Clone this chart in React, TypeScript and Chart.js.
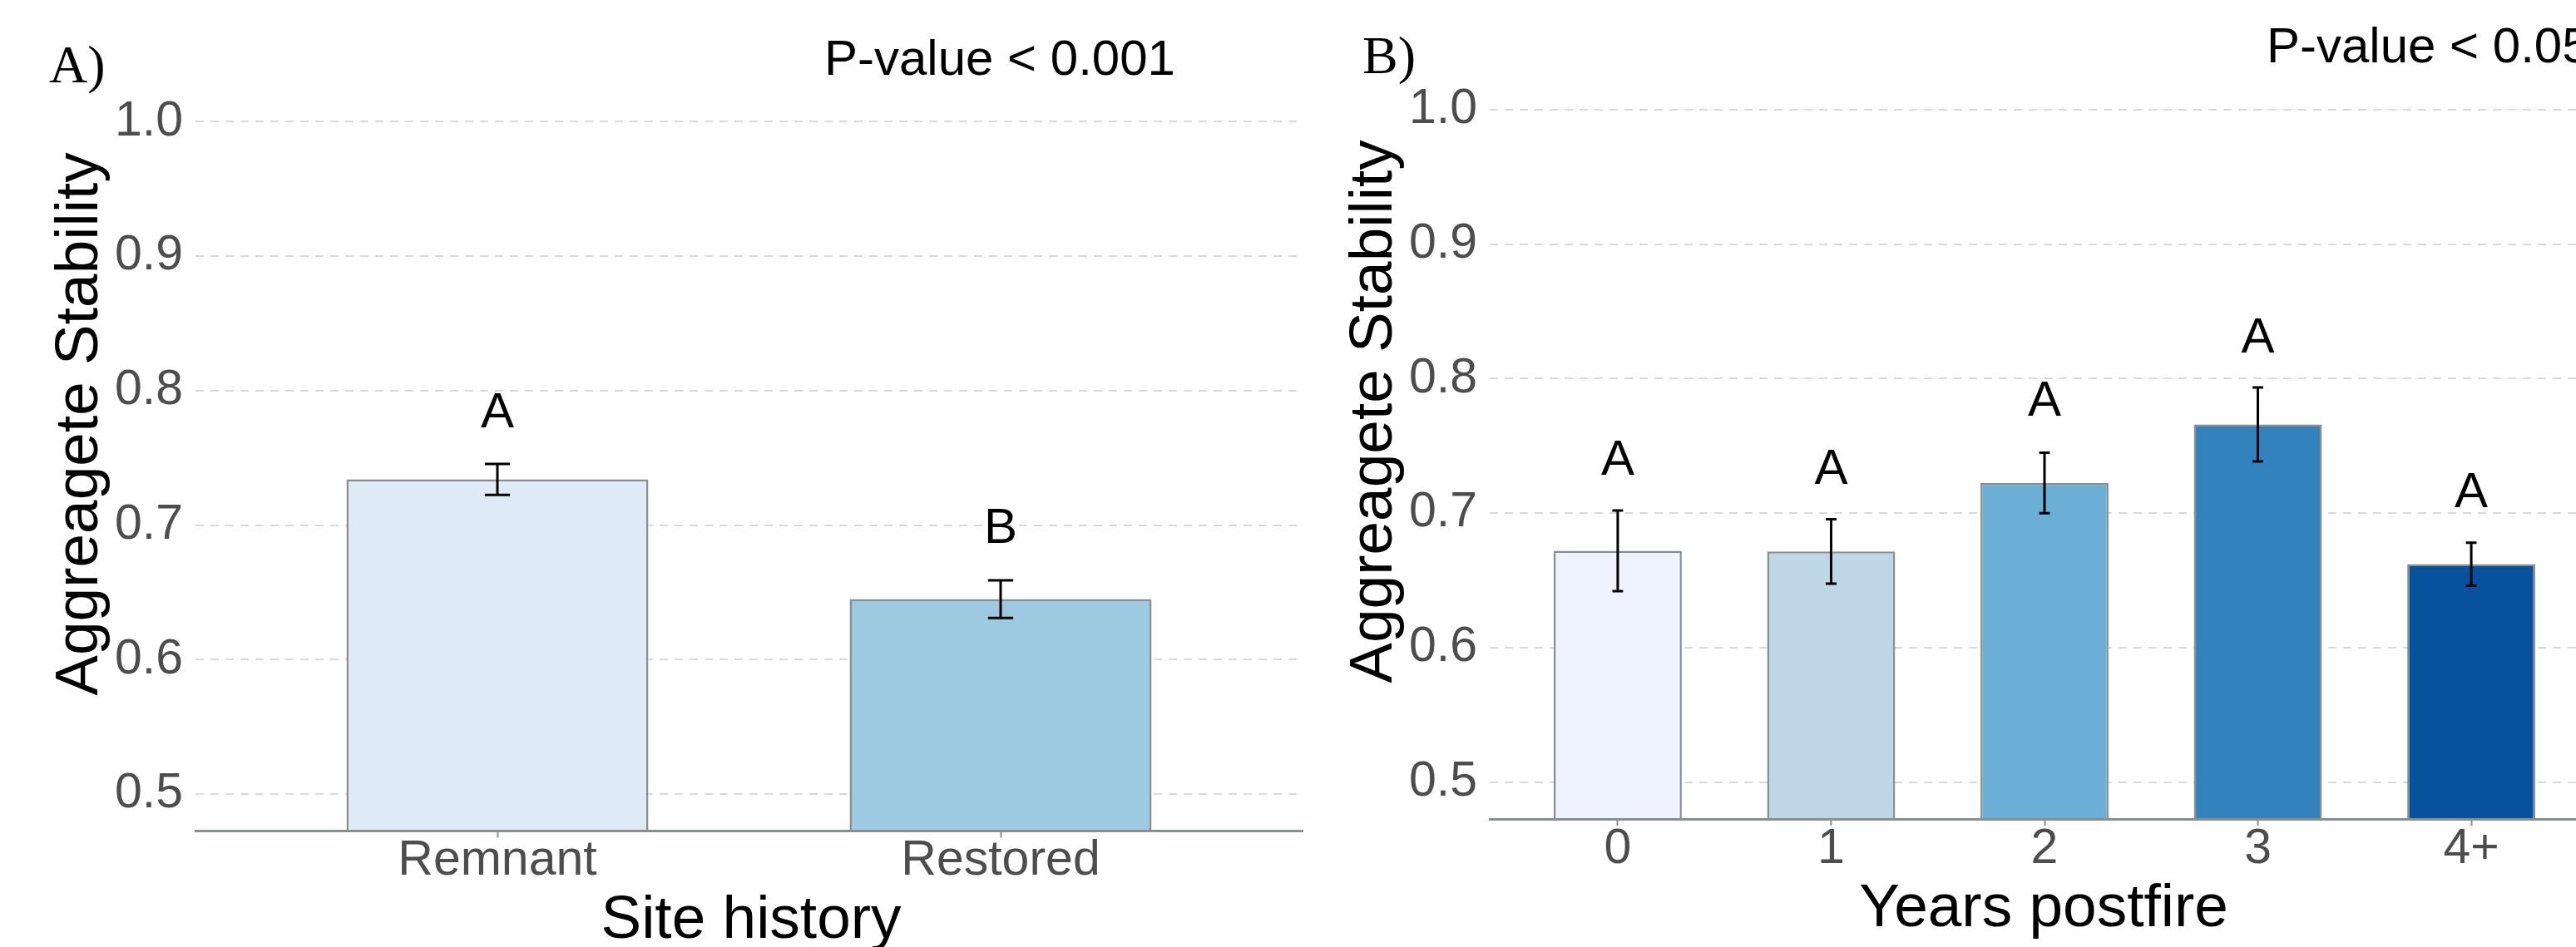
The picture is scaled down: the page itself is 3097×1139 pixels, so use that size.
import React, { useEffect, useRef } from 'react';
import { Chart, registerables } from 'chart.js';

Chart.register(...registerables);

// ---------- data ----------
const siteCategories = ['Remnant', 'Restored'];
const siteMeans = [0.734, 0.645];
const siteSE = [0.0115, 0.014];
const siteLetters = ['A', 'B'];
const siteLetterY = [0.786, 0.7];
const siteColors = ['#DEEBF7', '#9ECAE1'];

const yearCategories = ['0', '1', '2', '3', '4+'];
const yearMeans = [0.672, 0.6715, 0.7225, 0.766, 0.662];
const yearSE = [0.03, 0.024, 0.0225, 0.0275, 0.016];
const yearLetters = ['A', 'A', 'A', 'A', 'A'];
const yearLetterY = [0.742, 0.735, 0.786, 0.833, 0.718];
const yearColors = ['#EFF3FF', '#BDD7E7', '#6BAED6', '#3182BD', '#08519C'];

const yTickValues = [0.5, 0.6, 0.7, 0.8, 0.9, 1.0];
const Y_MIN = 0.4725;
const Y_MAX = 1.025;

// ---------- styles ----------
const SANS = '"Liberation Sans", Arial, Helvetica, sans-serif';
const SERIF = '"Liberation Serif", "Times New Roman", serif';
const BORDER = '#878F91';
const GRID = '#D9D9D9';
const TICK_TEXT = '#4D4D4D';
const CAP_WIDTH = 0.05;

type Panel = {
  categories: string[];
  means: number[];
  se: number[];
  letters: string[];
  letterY: number[];
  colors: string[];
  tag: string;
  pValue: string;
  xTitle: string;
  yTitle: string;
  padTop: number;
  padRight: number;
  yAxisWidth: number;
  xAxisHeight: number;
  tagX: number;
  tagY: number;
  pX: number;
  pY: number;
  yTitleX: number;
  yTitleY: number;
  xTitleX: number;
  xTitleY: number;
};

const panelA: Panel = {
  categories: siteCategories,
  means: siteMeans,
  se: siteSE,
  letters: siteLetters,
  letterY: siteLetterY,
  colors: siteColors,
  tag: 'A)',
  pValue: 'P-value < 0.001',
  xTitle: 'Site history',
  yTitle: 'Aggreagete Stability',
  padTop: 106,
  padRight: 34,
  yAxisWidth: 235,
  xAxisHeight: 139.5,
  tagX: 59,
  tagY: 99,
  pX: 991,
  pY: 90,
  yTitleX: 117,
  yTitleY: 510,
  xTitleX: 903,
  xTitleY: 1128,
};

const panelB: Panel = {
  categories: yearCategories,
  means: yearMeans,
  se: yearSE,
  letters: yearLetters,
  letterY: yearLetterY,
  colors: yearColors,
  tag: 'B)',
  pValue: 'P-value < 0.05',
  xTitle: 'Years postfire',
  yTitle: 'Aggreagete Stability',
  padTop: 91.7,
  padRight: 65,
  yAxisWidth: 201,
  xAxisHeight: 154,
  tagX: 48,
  tagY: 88,
  pX: 1135,
  pY: 75,
  yTitleX: 83,
  yTitleY: 495,
  xTitleX: 867,
  xTitleY: 1114,
};

function overlayPlugin(p: Panel) {
  return {
    id: 'overlay',
    afterDatasetsDraw(chart: any) {
      const ctx = chart.ctx;
      const xs = chart.scales.x;
      const ys = chart.scales.y;
      ctx.save();
      ctx.strokeStyle = '#000000';
      ctx.lineWidth = 3;
      ctx.lineCap = 'butt';
      p.means.forEach((m, i) => {
        const x = xs.getPixelForValue(i);
        const half = xs.getPixelForValue(i + CAP_WIDTH / 2) - x;
        const yt = ys.getPixelForValue(m + p.se[i]);
        const yb = ys.getPixelForValue(m - p.se[i]);
        ctx.beginPath();
        ctx.moveTo(x, yt);
        ctx.lineTo(x, yb);
        ctx.moveTo(x - half, yt);
        ctx.lineTo(x + half, yt);
        ctx.moveTo(x - half, yb);
        ctx.lineTo(x + half, yb);
        ctx.stroke();
      });
      ctx.fillStyle = '#000000';
      ctx.font = `60px ${SANS}`;
      ctx.textAlign = 'center';
      ctx.textBaseline = 'alphabetic';
      p.letters.forEach((l, i) => {
        ctx.fillText(l, xs.getPixelForValue(i), ys.getPixelForValue(p.letterY[i]) + 21.5);
      });
      ctx.restore();
    },
    afterDraw(chart: any) {
      const ctx = chart.ctx;
      ctx.save();
      ctx.fillStyle = '#000000';
      ctx.textBaseline = 'alphabetic';
      // panel tag
      ctx.font = `64px ${SERIF}`;
      ctx.textAlign = 'left';
      ctx.fillText(p.tag, p.tagX, p.tagY);
      // p-value
      ctx.font = `60px ${SANS}`;
      ctx.fillText(p.pValue, p.pX, p.pY);
      // x title
      ctx.font = `73px ${SANS}`;
      ctx.textAlign = 'center';
      ctx.fillText(p.xTitle, p.xTitleX, p.xTitleY);
      // y title
      ctx.translate(p.yTitleX, p.yTitleY);
      ctx.rotate(-Math.PI / 2);
      ctx.fillText(p.yTitle, 0, 0);
      ctx.restore();
    },
  };
}

function makeConfig(p: Panel): any {
  const n = p.categories.length;
  return {
    type: 'bar',
    data: {
      datasets: [
        {
          data: p.means.map((v, i) => ({ x: i, y: v })),
          backgroundColor: p.colors,
          borderColor: BORDER,
          borderWidth: 2.5,
          borderSkipped: 'start',
          barPercentage: 0.6,
          categoryPercentage: 1,
        },
      ],
    },
    options: {
      animation: false,
      responsive: false,
      maintainAspectRatio: false,
      devicePixelRatio: 1,
      events: [],
      layout: { padding: { left: 0, top: p.padTop, right: p.padRight, bottom: 0 } },
      plugins: {
        legend: { display: false },
        tooltip: { enabled: false },
        title: { display: false },
      },
      scales: {
        x: {
          type: 'linear',
          min: -0.6,
          max: n - 0.4,
          offset: false,
          afterBuildTicks: (s: any) => {
            s.ticks = p.categories.map((_, i) => ({ value: i }));
          },
          afterFit: (s: any) => {
            s.height = p.xAxisHeight;
          },
          grid: {
            display: true,
            offset: false,
            drawOnChartArea: false,
            drawTicks: true,
            tickLength: 8,
            tickColor: BORDER,
            tickWidth: 2,
            color: BORDER,
          },
          border: { display: true, color: BORDER, width: 3, z: 1 },
          ticks: {
            callback: (_v: any, i: number) => p.categories[i] ?? '',
            font: { family: SANS, size: 59, lineHeight: 1 },
            color: TICK_TEXT,
            padding: -1,
            maxRotation: 0,
            minRotation: 0,
            autoSkip: false,
          },
        },
        y: {
          type: 'linear',
          min: Y_MIN,
          max: Y_MAX,
          afterBuildTicks: (s: any) => {
            s.ticks = yTickValues.map((v) => ({ value: v }));
          },
          afterFit: (s: any) => {
            s.width = p.yAxisWidth;
          },
          grid: { display: true, drawTicks: false, color: GRID, lineWidth: 2 },
          border: { display: false, dash: [10, 8] },
          ticks: {
            callback: (v: any) => Number(v).toFixed(1),
            font: { family: SANS, size: 59 },
            color: TICK_TEXT,
            padding: 15,
          },
        },
      },
    },
    plugins: [overlayPlugin(p)],
  };
}

function PanelChart({ panel, left }: { panel: Panel; left: number }) {
  const ref = useRef<HTMLCanvasElement | null>(null);
  useEffect(() => {
    if (!ref.current) return;
    const chart = new Chart(ref.current, makeConfig(panel));
    return () => chart.destroy();
  }, [panel]);
  return (
    <canvas
      ref={ref}
      width={1600}
      height={1139}
      style={{ position: 'absolute', left, top: 0, width: 1600, height: 1139 }}
    />
  );
}

export default function App() {
  return (
    <div
      style={{
        position: 'absolute',
        left: 0,
        top: 0,
        width: 3097,
        height: 1139,
        overflow: 'hidden',
        background: '#ffffff',
      }}
    >
      <PanelChart panel={panelA} left={0} />
      <PanelChart panel={panelB} left={1590} />
    </div>
  );
}
